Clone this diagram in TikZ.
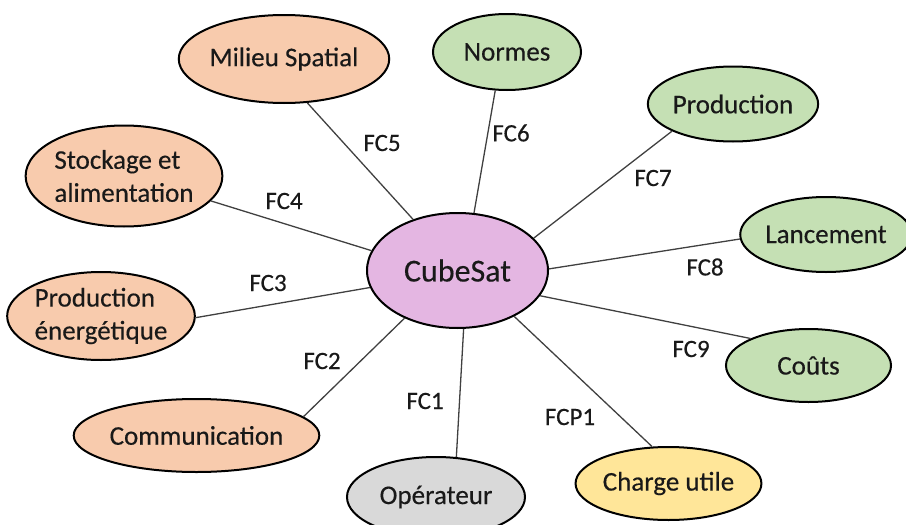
\documentclass[tikz,border=0pt]{standalone}
\usepackage{fontspec}
\setmainfont{Carlito}[FakeBold=0.35]
\usetikzlibrary{shapes.geometric}

\definecolor{peach}{HTML}{F8CBAD}
\definecolor{sage}{HTML}{C5E0B4}
\definecolor{lilac}{HTML}{E4B6E2}
\definecolor{ash}{HTML}{D9D9D9}
\definecolor{gold}{HTML}{FFE699}
\definecolor{wire}{HTML}{404040}

\tikzset{
  bubble/.style n args={3}{ellipse, draw=black, line width=2pt, fill=#1,
    minimum width=#2, minimum height=#3, inner sep=0pt,
    font=\fontsize{27}{33}\selectfont, text=black!90},
  link/.style={draw=wire, line width=1.3pt},
  tag/.style={font=\fontsize{25}{30}\selectfont, text=black!90, inner sep=0pt}
}

\begin{document}
\begin{tikzpicture}[x=1pt, y=-1pt]
\path[use as bounding box] (0,0) rectangle (906,525);

% central element
\node[bubble={lilac}{181pt}{115pt}, font=\fontsize{32}{36}\selectfont] (cube) at (457.5,270.5) {CubeSat};

% environment elements
\node[bubble={peach}{165pt}{88pt}] (milieu) at (284,59) {Milieu Spatial};
\node[bubble={peach}{182pt}{101pt}, align=left] (stock) at (124,176) {Stockage et\\alimentation};
\node[bubble={peach}{182pt}{88pt}, align=left] (prodE) at (101,316) {Production\\énergétique};
\node[bubble={peach}{237pt}{73pt}] (comm) at (196.5,435.5) {Communication};
\node[bubble={ash}{178pt}{80pt}] (oper) at (436,497) {Opérateur};
\node[bubble={gold}{175pt}{73pt}] (charge) at (668.5,483.5) {Charge utile};
\node[bubble={sage}{165pt}{73pt}] (couts) at (808.5,365.5) {Coûts};
\node[bubble={sage}{158pt}{75pt}] (lanc) at (826,234.5) {Lancement};
\node[bubble={sage}{166pt}{75pt}] (prod) at (733,104) {Production};
\node[bubble={sage}{148pt}{76pt}] (normes) at (507,52) {Normes};

% connectors
\draw[link] (milieu.-62.9) -- (cube.131.4);
\draw[link] (stock.-16.1) -- (cube.167.4);
\draw[link] (normes.-107.5) -- (cube.74.9);
\draw[link] (prod.-156.5) -- (cube.23.9);
\draw[link] (lanc.-177.5) -- (cube.1.6);
\draw[link] (cube.-17.6) -- (couts.155.6);
\draw[link] (cube.-39.7) -- (charge.114.4);
\draw[link] (cube.-84.6) -- (oper.63.4);
\draw[link] (comm.10.7) -- (cube.-138.8);
\draw[link] (prodE.-1.9) -- (cube.-169.7);

% function labels
\node[tag] (l5) at (382,143) {FC5};
\node[tag] (l4) at (284,201) {FC4};
\node[tag] (l6) at (511,133) {FC6};
\node[tag] (l7) at (653,178) {FC7};
\node[tag] (l8) at (705,267) {FC8};
\node[tag] (l9) at (691,349) {FC9};
\node[tag] (lp1) at (570,417) {FCP1};
\node[tag] (l1) at (425,401) {FC1};
\node[tag] (l2) at (322,361) {FC2};
\node[tag] (l3) at (268,283) {FC3};
\end{tikzpicture}
\end{document}
